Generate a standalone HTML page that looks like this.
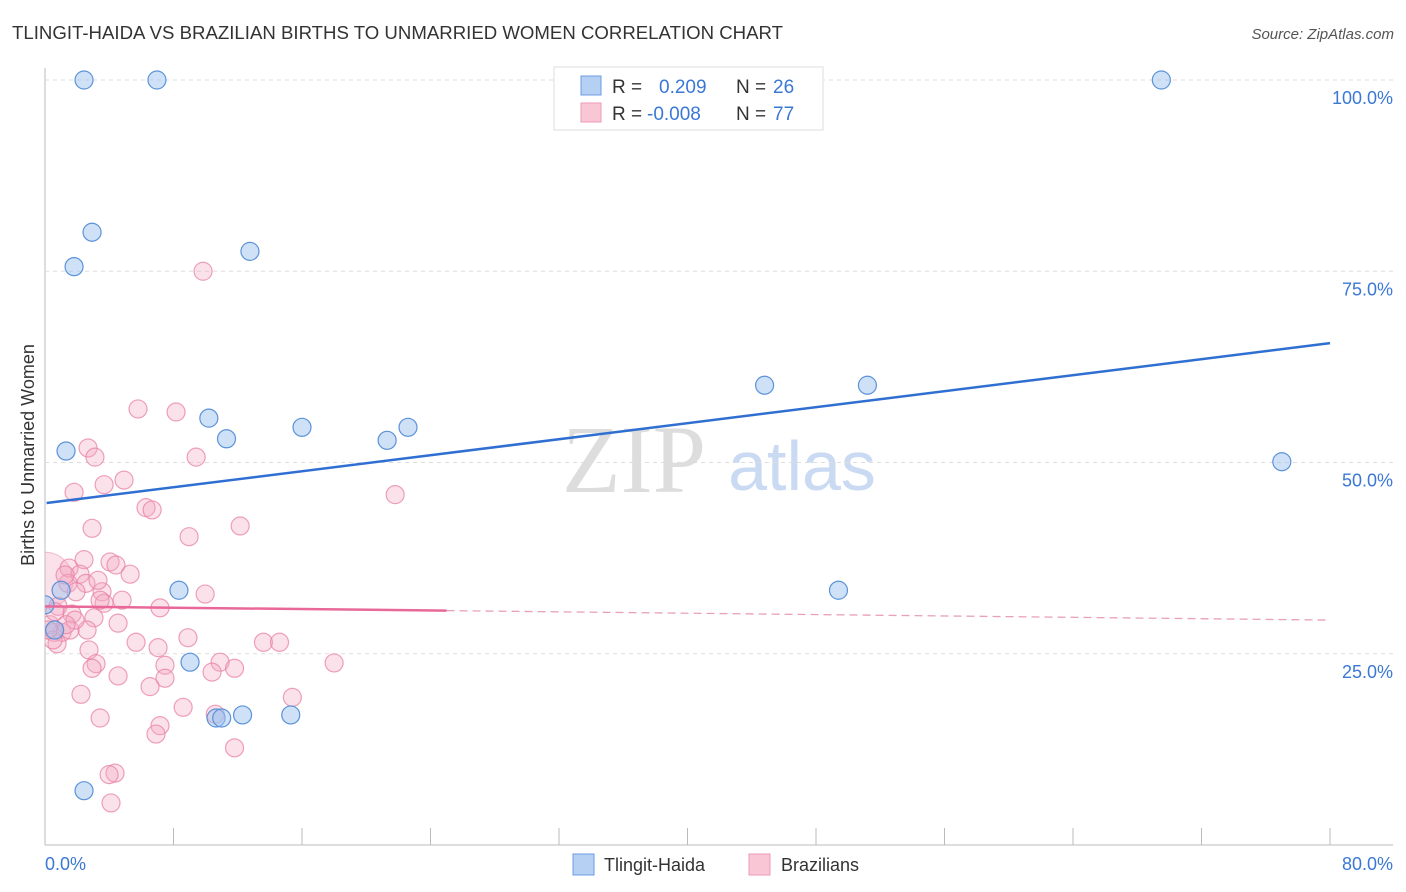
<!DOCTYPE html>
<html><head><meta charset="utf-8"><style>
body{margin:0;background:#fff;font-family:"Liberation Sans",sans-serif;}
svg{display:block}
</style></head><body>
<svg id="chart" width="1406" height="892">
<defs><clipPath id="plotclip"><rect x="45" y="60" width="1360" height="786"/></clipPath></defs>
<text x="12" y="39" font-size="18" fill="#333" textLength="771" lengthAdjust="spacingAndGlyphs">TLINGIT-HAIDA VS BRAZILIAN BIRTHS TO UNMARRIED WOMEN CORRELATION CHART</text>
<text x="1394" y="39" font-size="15" fill="#555" text-anchor="end" font-style="italic">Source: ZipAtlas.com</text>
<text x="634" y="492" font-size="96" fill="#ddd" font-family="Liberation Serif" text-anchor="middle">ZIP</text>
<text x="802" y="490" font-size="70" fill="#c9daf2" text-anchor="middle">atlas</text>
<text transform="translate(34,455) rotate(-90)" font-size="18" fill="#333" text-anchor="middle">Births to Unmarried Women</text>
<g id="grid"></g><g id="pts" clip-path="url(#plotclip)"></g><g id="trend"></g>
<g>
<rect x="554" y="67" width="269" height="63" fill="#fff" stroke="#ddd"/>
<rect x="581" y="76" width="20" height="19" fill="#b5d0f3" stroke="#6b9be0"/>
<rect x="581" y="103" width="20" height="19" fill="#f9c6d6" stroke="#ee9ab5"/>
<text x="612" y="93" font-size="19" fill="#333">R = </text><text x="659" y="93" font-size="19" fill="#3a78d4">0.209</text>
<text x="736" y="93" font-size="19" fill="#333">N = </text><text x="773" y="93" font-size="19" fill="#3a78d4">26</text>
<text x="612" y="120" font-size="19" fill="#333">R = </text><text x="647" y="120" font-size="19" fill="#3a78d4">-0.008</text>
<text x="736" y="120" font-size="19" fill="#333">N = </text><text x="773" y="120" font-size="19" fill="#3a78d4">77</text>
</g>
<g>
<rect x="573" y="854" width="21" height="21" fill="#b5d0f3" stroke="#6b9be0"/>
<text x="604" y="871" font-size="18" fill="#333">Tlingit-Haida</text>
<rect x="749" y="854" width="21" height="21" fill="#f9c6d6" stroke="#ee9ab5"/>
<text x="781" y="871" font-size="18" fill="#333">Brazilians</text>
</g>
</svg>
<script>
const blueX=[2.43,6.97,69.5,2.93,1.81,12.76,44.8,51.2,10.2,16.0,11.3,21.3,22.6,1.31,77.0,8.34,49.4,1.0,9.03,10.65,11.0,12.3,15.3,2.43,0,0.6];
const blueY=[100,100,100,80.1,75.6,77.6,60.1,60.1,55.8,54.6,53.1,52.9,54.6,51.5,50.1,33.3,33.3,33.3,23.9,16.6,16.6,17.0,17.0,7.1,31.4,28.1];
const pinkX=[9.84,5.79,8.16,2.68,3.11,9.41,1.81,3.68,4.92,6.29,6.67,2.93,12.15,8.97,21.8,2.43,1.5,4.05,4.42,5.3,2.18,1.43,2.55,1.93,3.55,3.68,7.16,9.97,0.81,1.68,3.05,4.55,2.62,1.06,1.56,0.56,0.75,2.74,5.67,8.9,7.04,13.6,14.6,18.0,3.18,2.93,7.47,10.9,11.8,10.4,4.55,7.47,6.54,2.24,15.4,8.6,3.43,10.6,7.16,6.91,11.8,4.36,3.99,4.11,3.43,1.87,0.31,1.31,0.62,0.5,0.19,1.25,3.3,4.8];
const pinkY=[75.0,57.0,56.6,51.9,50.7,50.7,46.1,47.1,47.7,44.1,43.8,41.4,41.7,40.3,45.8,37.3,36.2,37.0,36.6,35.4,35.4,34.2,34.2,33.1,33.1,31.6,31.0,32.8,31.2,30.2,29.7,29.0,28.1,27.8,28.1,27.8,26.3,25.5,26.5,27.1,25.8,26.5,26.5,23.8,23.7,23.1,23.5,23.9,23.1,22.6,22.1,21.8,20.7,19.7,19.3,18.0,16.6,17.1,15.6,14.5,12.7,9.4,9.2,5.5,32.0,29.4,28.8,28.8,30.5,26.8,28.1,35.3,34.6,32.0];
const blueTrend=[44.7,65.6];
const pinkTrend=[31.2,29.4];
const pinkSolidEnd=25;
const yTicks=[25,50,75,100];
const xTickVals=[0,8,16,24,32,40,48,56,64,72,80];
const NS="http://www.w3.org/2000/svg";
const sx=v=>45+v/80*1285, sy=v=>845-v*7.65;
function mk(t,a,p){const e=document.createElementNS(NS,t);for(const k in a)e.setAttribute(k,a[k]);p.appendChild(e);return e;}
const grid=document.getElementById('grid');
mk('line',{x1:45,y1:68,x2:45,y2:845,stroke:'#bbb'},grid);
mk('line',{x1:45,y1:845,x2:1393,y2:845,stroke:'#bbb'},grid);
yTicks.forEach(v=>{
 const l=mk('line',{x1:45,y1:sy(v),x2:1393,y2:sy(v),stroke:'#ddd','stroke-dasharray':'4,4'},grid);
 
 
 const t=mk('text',{x:1393,y:sy(v)+24,'font-size':18,fill:'#3a78d4','text-anchor':'end'},grid);t.textContent=v.toFixed(1)+'%';
 
 
});
xTickVals.forEach(v=>{mk('line',{x1:sx(v),y1:828,x2:sx(v),y2:845,stroke:'#bbb'},grid);});
let t0=mk('text',{x:45,y:870,'font-size':18,fill:'#3a78d4'},grid);t0.textContent='0.0%';


let t1=mk('text',{x:1393,y:870,'font-size':18,fill:'#3a78d4','text-anchor':'end'},grid);t1.textContent='80.0%';


const pts=document.getElementById('pts');
const big=mk('circle',{cx:sx(0),cy:sy(34.6),r:28,fill:'rgba(244,170,195,0.35)',stroke:'rgba(232,130,165,0.5)'},pts);


pinkX.forEach((x,i)=>{const c=mk('circle',{cx:sx(x),cy:sy(pinkY[i]),r:9,fill:'rgba(244,170,195,0.35)',stroke:'rgba(232,130,165,0.75)','stroke-width':1.2},pts);
 
 });
blueX.forEach((x,i)=>{const c=mk('circle',{cx:sx(x),cy:sy(blueY[i]),r:9,fill:'rgba(160,196,240,0.5)',stroke:'#5b93d9','stroke-width':1.2},pts);
 
 });
const tr=document.getElementById('trend');
const bl=mk('line',{x1:sx(0.1),y1:sy(blueTrend[0]),x2:sx(80),y2:sy(blueTrend[1]),stroke:'#2f6fd1','stroke-width':2.5},tr);


const py=x=>pinkTrend[0]+(pinkTrend[1]-pinkTrend[0])*x/80;
const ps=mk('line',{x1:sx(0),y1:sy(py(0)),x2:sx(pinkSolidEnd),y2:sy(py(pinkSolidEnd)),stroke:'#e8689a','stroke-width':2.5},tr);


const pd=mk('line',{x1:sx(pinkSolidEnd),y1:sy(py(pinkSolidEnd)),x2:sx(80),y2:sy(py(80)),stroke:'#e8a0bb','stroke-width':1.3,'stroke-dasharray':'8,5'},tr);


</script>
</body></html>
